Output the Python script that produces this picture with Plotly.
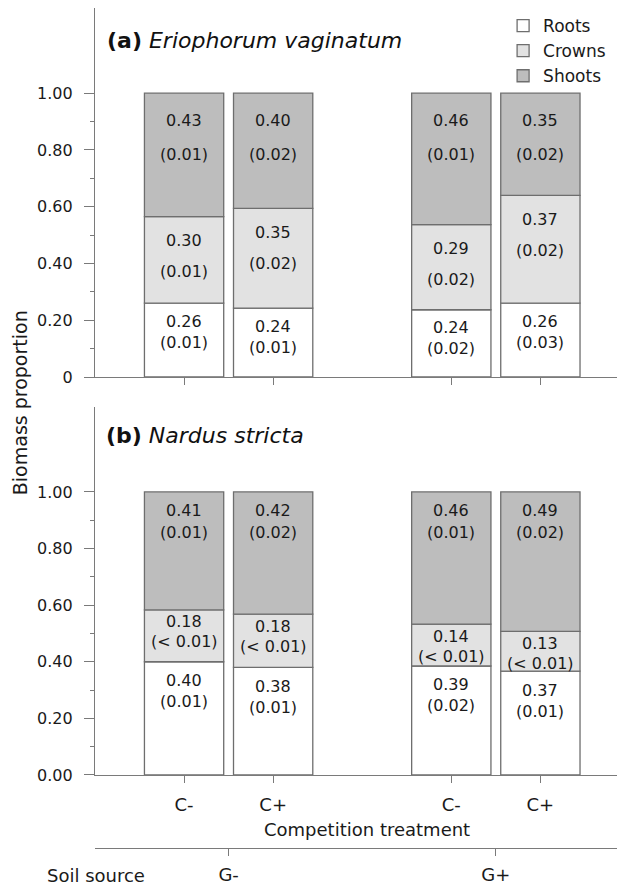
import plotly.graph_objects as go

# ---------------- data ----------------
competition = ["C-", "C+", "C-", "C+"]
soil_source = ["G-", "G+"]
positions = [1, 2, 4, 5]
soil_positions = [1.5, 4.5]

# panel (a) Eriophorum vaginatum: segment heights
a_roots = [0.26, 0.243, 0.237, 0.26]
a_crowns = [0.305, 0.351, 0.30, 0.38]
a_shoots = [0.435, 0.406, 0.463, 0.36]
a_roots_lbl = ["0.26", "0.24", "0.24", "0.26"]
a_roots_se = ["(0.01)", "(0.01)", "(0.02)", "(0.03)"]
a_crowns_lbl = ["0.30", "0.35", "0.29", "0.37"]
a_crowns_se = ["(0.01)", "(0.02)", "(0.02)", "(0.02)"]
a_shoots_lbl = ["0.43", "0.40", "0.46", "0.35"]
a_shoots_se = ["(0.01)", "(0.02)", "(0.01)", "(0.02)"]

# panel (b) Nardus stricta
b_roots = [0.40, 0.38, 0.385, 0.367]
b_crowns = [0.183, 0.188, 0.148, 0.14]
b_shoots = [0.417, 0.432, 0.467, 0.493]
b_roots_lbl = ["0.40", "0.38", "0.39", "0.37"]
b_roots_se = ["(0.01)", "(0.01)", "(0.02)", "(0.01)"]
b_crowns_lbl = ["0.18", "0.18", "0.14", "0.13"]
b_crowns_se = ["(< 0.01)", "(< 0.01)", "(< 0.01)", "(< 0.01)"]
b_shoots_lbl = ["0.41", "0.42", "0.46", "0.49"]
b_shoots_se = ["(0.01)", "(0.02)", "(0.01)", "(0.02)"]

y_ticks = [0, 0.2, 0.4, 0.6, 0.8, 1.0]
a_ticktext = ["0", "0.20", "0.40", "0.60", "0.80", "1.00"]
b_ticktext = ["0.00", "0.20", "0.40", "0.60", "0.80", "1.00"]
minor_ticks = [0.1, 0.3, 0.5, 0.7, 0.9]

# ---------------- style ----------------
FONT = "DejaVu Sans"
COL = {"Roots": "#ffffff", "Crowns": "#e2e2e2", "Shoots": "#bdbdbd"}
EDGE = "#6e6e6e"
AXC = "#7a7a7a"
TXT = "#1a1a1a"
BARW = 0.89

fig = go.Figure()
annotations = []


def add_panel(xa, ya, segs, show_legend, offsets):
    base = [0.0] * len(positions)
    for (name, h, lbl, se), (off_v, off_se) in zip(segs, offsets):
        fig.add_trace(go.Bar(
            x=positions, y=h, base=base, name=name, width=BARW,
            marker=dict(color=COL[name], line=dict(color=EDGE, width=1.3)),
            xaxis=xa, yaxis=ya, showlegend=show_legend, legendgroup=name,
            hoverinfo="skip",
        ))
        tops = [b + v for b, v in zip(base, h)]
        for x, t, l, s in zip(positions, tops, lbl, se):
            annotations.append(dict(x=x, y=t, xref=xa, yref=ya, text=l, showarrow=False,
                                    yanchor="middle", yshift=-off_v, borderpad=0,
                                    font=dict(family=FONT, size=16, color=TXT)))
            annotations.append(dict(x=x, y=t, xref=xa, yref=ya, text=s, showarrow=False,
                                    yanchor="middle", yshift=-off_se, borderpad=0,
                                    font=dict(family=FONT, size=16, color=TXT)))
        base = tops


add_panel("x", "y",
          [("Roots", a_roots, a_roots_lbl, a_roots_se),
           ("Crowns", a_crowns, a_crowns_lbl, a_crowns_se),
           ("Shoots", a_shoots, a_shoots_lbl, a_shoots_se)],
          True, [(18, 39), (24, 55), (27, 61)])
add_panel("x2", "y2",
          [("Roots", b_roots, b_roots_lbl, b_roots_se),
           ("Crowns", b_crowns, b_crowns_lbl, b_crowns_se),
           ("Shoots", b_shoots, b_shoots_lbl, b_shoots_se)],
          False, [(19, 40), (12, 32), (19, 41)])

# dummy trace to materialise the soil-source axis
fig.add_trace(go.Scatter(x=soil_positions, y=[None, None], xaxis="x3", yaxis="y2",
                         mode="markers", showlegend=False, hoverinfo="skip"))

XR = [0, 5.95]
common_x = dict(range=XR, showline=True, linecolor=AXC, linewidth=1.3, ticks="outside",
                ticklen=7, tickcolor=AXC, tickwidth=1.3, showgrid=False, zeroline=False,
                tickvals=positions, fixedrange=True)
common_y = dict(range=[0, 1.3], showline=True, linecolor=AXC, linewidth=1.3, ticks="outside",
                ticklen=10, tickcolor=AXC, tickwidth=1.3, showgrid=False, zeroline=False,
                tickvals=y_ticks, tickfont=dict(family=FONT, size=16, color=TXT),
                ticklabelstandoff=8,
                minor=dict(tickvals=minor_ticks, ticks="outside", ticklen=4,
                           tickcolor=AXC, tickwidth=1.3, showgrid=False))

annotations += [
    dict(text="<b>(a)</b> <i>Eriophorum vaginatum</i>", xref="paper", yref="paper",
         x=0.019, y=0.9617, xanchor="left", yanchor="middle", showarrow=False,
         font=dict(family=FONT, size=22, color="#111111")),
    dict(text="<b>(b)</b> <i>Nardus stricta</i>", xref="paper", yref="paper",
         x=0.017, y=0.504, xanchor="left", yanchor="middle", showarrow=False,
         font=dict(family=FONT, size=22, color="#111111")),
    dict(text="Biomass proportion", xref="paper", yref="paper", x=-0.1415, y=0.541,
         textangle=-90, showarrow=False, xanchor="center", yanchor="middle",
         font=dict(family=FONT, size=19, color=TXT)),
    dict(text="Competition treatment", xref="paper", yref="paper", x=0.513, y=0.0453,
         showarrow=False, xanchor="center", yanchor="middle",
         font=dict(family=FONT, size=18, color=TXT)),
    dict(text="Soil source", xref="paper", yref="paper", x=-0.0943, y=-0.007,
         showarrow=False, xanchor="left", yanchor="middle",
         font=dict(family=FONT, size=18, color=TXT)),
]

# the page body adds an 8 px offset, so the figure is 8 px smaller and margins shifted
fig.update_layout(
    width=617, height=881,
    margin=dict(l=87, r=0, t=0, b=20),
    paper_bgcolor="white", plot_bgcolor="white",
    barmode="overlay",
    xaxis=dict(common_x, domain=[0, 1], anchor="y", showticklabels=False),
    yaxis=dict(common_y, domain=[0.5714, 1.0], anchor="x", ticktext=a_ticktext),
    xaxis2=dict(common_x, domain=[0, 1], anchor="y2", ticktext=competition,
                ticklabelstandoff=6,
                tickfont=dict(family=FONT, size=18, color=TXT)),
    yaxis2=dict(common_y, domain=[0.1092, 0.5366], anchor="x2", ticktext=b_ticktext),
    xaxis3=dict(range=XR, domain=[0.006, 1], anchor="free", position=0.0244, overlaying="x2",
                showline=True, linecolor=AXC, linewidth=1.3, ticks="outside", ticklen=7,
                tickcolor=AXC, tickwidth=1.3, showgrid=False, zeroline=False,
                tickvals=soil_positions, ticktext=soil_source, ticklabelstandoff=3,
                tickfont=dict(family=FONT, size=18, color=TXT)),
    legend=dict(x=0.77, y=1.0, xanchor="left", yanchor="top", traceorder="normal",
                font=dict(family=FONT, size=17, color=TXT), bgcolor="rgba(0,0,0,0)",
                itemwidth=30, tracegroupgap=0),
    annotations=annotations,
    showlegend=True,
)

fig.write_html("out.html")
